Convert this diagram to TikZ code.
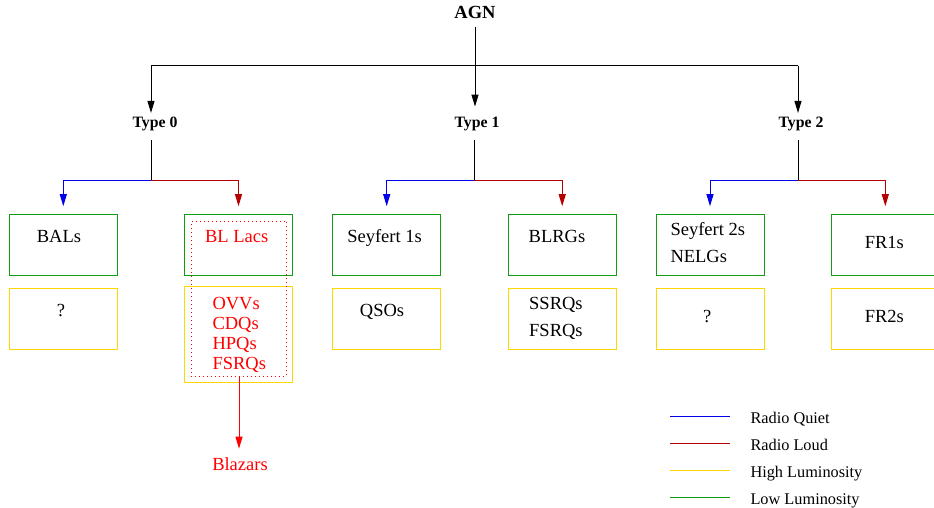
\documentclass[tikz,border=0pt]{standalone}
\usepackage{fontspec}
\setmainfont{Liberation Serif}
\usetikzlibrary{arrows.meta}
\definecolor{quiet}{RGB}{0,0,235}
\definecolor{loud}{RGB}{180,0,0}
\definecolor{lowlum}{RGB}{20,155,20}
\definecolor{highlum}{RGB}{255,215,0}
\definecolor{blz}{RGB}{255,0,0}
\tikzset{every picture/.style={line width=1pt}}

\begin{document}
\begin{tikzpicture}[x=1pt,y=1pt,yscale=-1,xscale=1,
  tip/.style={-{Triangle[length=12pt,width=7pt]}},
  txt/.style={inner sep=0pt,anchor=base,font=\fontsize{18.5}{22}\selectfont},
  head/.style={inner sep=0pt,anchor=base,font=\fontsize{15.8}{18}\selectfont\bfseries},
  leg/.style={inner sep=0pt,anchor=base west,font=\fontsize{16.3}{18}\selectfont},
  lowbox/.style={draw=lowlum,minimum width=108pt,minimum height=61pt,inner sep=0pt},
  highbox/.style={draw=highlum,minimum width=108pt,minimum height=61pt,inner sep=0pt}]
\clip (0,0) rectangle (934,508);

% Heads
\node[inner sep=0pt,anchor=base,font=\fontsize{18.5}{20}\selectfont\bfseries] (agn) at (475,19) {AGN};
\node[head] (t0) at (155,127.5) {Type 0};
\node[head] (t1) at (477,127.5) {Type 1};
\node[head] (t2) at (801,127.5) {Type 2};

%Shape: Boxes
\node[lowbox] (bals) at (63.3,244.5) {};
\node[highbox] (balsq) at (63.3,318.8) {};
\node[lowbox,minimum width=108.4pt] (bll) at (238.5,244.5) {};
\node[highbox,minimum width=108.4pt,minimum height=96pt] (ovv) at (238.5,334.3) {};
\node[lowbox] (sey1) at (386.7,244.5) {};
\node[highbox] (qso) at (386.7,318.8) {};
\node[lowbox] (blrg) at (562.2,244.5) {};
\node[highbox] (ssrq) at (562.2,318.8) {};
\node[lowbox] (sey2) at (710,244.5) {};
\node[highbox] (sey2q) at (710,318.8) {};
\node[lowbox] (fr1) at (885.3,244.5) {};
\node[highbox] (fr2) at (885.3,318.8) {};
%Shape: dotted blazar box
\node[draw=blz,dash pattern=on 1pt off 3pt,minimum width=95.4pt,minimum height=154.7pt,inner sep=0pt] (blzbox) at (239,298.7) {};

% Text Node
\node[txt] (balst) at (59,242) {BALs};
\node[txt] (qmark0) at (61,316) {?};
\node[txt,text=blz] (bllt) at (236.7,242) {BL Lacs};
\node[txt,anchor=base west,text=blz] (ovvt) at (212,309) {OVVs};
\node[txt,anchor=base west,text=blz] (cdqt) at (212,329) {CDQs};
\node[txt,anchor=base west,text=blz] (hpqt) at (212,349) {HPQs};
\node[txt,anchor=base west,text=blz] (fsrqt) at (212,369) {FSRQs};
\node[txt,text=blz] (blazars) at (240,470) {Blazars};
\node[txt] (sey1t) at (384.5,242) {Seyfert 1s};
\node[txt] (qsot) at (382,316) {QSOs};
\node[txt] (blrgt) at (557,242) {BLRGs};
\node[txt,anchor=base west] (ssrqt) at (528.7,309.3) {SSRQs};
\node[txt,anchor=base west] (fsrq2t) at (528.7,336) {FSRQs};
\node[txt,anchor=base west] (sey2t) at (670,235.3) {Seyfert 2s};
\node[txt,anchor=base west] (nelgt) at (670,262) {NELGs};
\node[txt] (qmark2) at (707.3,322) {?};
\node[txt] (fr1t) at (884.3,248.3) {FR1s};
\node[txt] (fr2t) at (884.3,322) {FR2s};

% Top tree
\coordinate (k0) at (151,66);
\coordinate (k2) at (798,66);
\draw (k0) -- (k2);
\draw[tip,shorten <=7pt,shorten >=10pt] (agn.south) -- (agn.south |- t1.north);
\draw[tip,shorten >=3.6pt] (k0) -- (k0 |- t0.north);
\draw[tip,shorten >=3.6pt] (k2) -- (k2 |- t2.north);

% Branches
\coordinate (j0) at (151,180);
\coordinate (j1) at (474,180);
\coordinate (j2) at (798,180);
\draw[shorten <=9pt] (j0 |- t0.south) -- (j0);
\draw[shorten <=9pt] (j1 |- t1.south) -- (j1);
\draw[shorten <=9pt] (j2 |- t2.south) -- (j2);
\draw[quiet,tip,shorten >=7.3pt] (j0) -| (bals);
\draw[loud,tip,shorten >=7.3pt] (j0) -| (bll);
\draw[quiet,tip,shorten >=7.3pt] (j1) -| (sey1);
\draw[loud,tip,shorten >=7.3pt] (j1) -| (blrg);
\draw[quiet,tip,shorten >=7.3pt] (j2) -| (sey2);
\draw[loud,tip,shorten >=7.3pt] (j2) -| (fr1);
\draw[blz,tip,shorten >=8pt] (blzbox.south) -- (blzbox.south |- blazars.north);

% Legend
\draw[quiet] (670,416) -- (730,416);
\draw[loud] (670,443.3) -- (730,443.3);
\draw[highlum] (670,470) -- (730,470);
\draw[lowlum] (670,497.3) -- (730,497.3);
\node[leg] (rq) at (750,423) {Radio Quiet};
\node[leg] (rl) at (750,450) {Radio Loud};
\node[leg] (hl) at (750,477) {High Luminosity};
\node[leg] (ll) at (750,504) {Low Luminosity};

\end{tikzpicture}
\end{document}
